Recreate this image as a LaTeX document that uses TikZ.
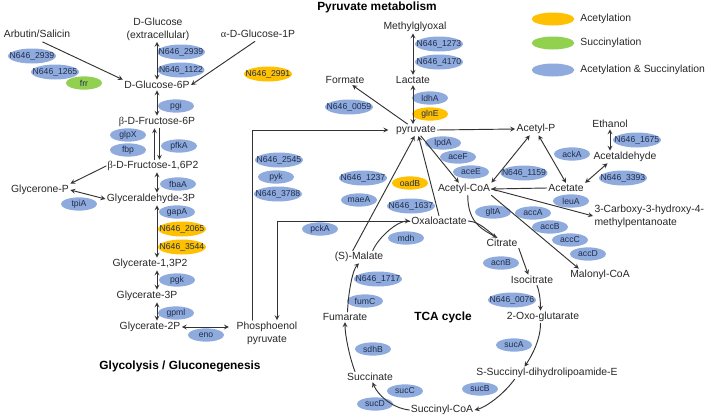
\documentclass[tikz,border=0pt]{standalone}
\usepackage{fontspec}
\setmainfont{Liberation Sans}
\newfontfamily\grk{Liberation Serif}
\usetikzlibrary{shapes.geometric,positioning}
\definecolor{enzblue}{HTML}{8FAADC}
\definecolor{enzyellow}{HTML}{FFC000}
\definecolor{enzgreen}{HTML}{92D050}
\definecolor{enztext}{HTML}{1F2E4C}
\tikzset{
  met/.style={font=\fontsize{8.3}{10.4}\selectfont,inner sep=1pt,text=black!85},
  ttl/.style={font=\fontsize{9.5}{11}\selectfont\bfseries,inner sep=1pt},
  enz/.style={ellipse,minimum width=29pt,minimum height=10.6pt,inner xsep=-4.3pt,inner ysep=0pt,
    font=\fontsize{6.9}{8}\selectfont,text=enztext},
  lng/.style={minimum height=12pt},
  blu/.style={enz,fill=enzblue},
  yel/.style={enz,fill=enzyellow},
  grn/.style={enz,fill=enzgreen},
  legend/.style={ellipse,minimum width=34pt,minimum height=10.4pt,inner sep=0pt},
  rxn/.style={draw=black!80,line width=0.75pt}
}
\begin{document}
\begin{tikzpicture}[x=0.8pt,y=-0.8pt,line join=round,line cap=round,>=stealth]
\path[use as bounding box] (0,0) rectangle (708,419);
% glycolysis / gluconeogenesis
\node[met] (arb) at (37,34) {Arbutin/Salicin};
\node[met,align=center] (glcex) at (158,29) {D-Glucose\\(extracellular)};
\node[met] (glc1p) at (258,34) {{\grk α}-D-Glucose-1P};
\node[met] (g6p) at (157,85) {D-Glucose-6P};
\node[met] (f6p) at (157,122) {{\grk β}-D-Fructose-6P};
\node[met] (f16) at (153,166) {{\grk β}-D-Fructose-1,6P2};
\node[met] (gnp) at (40,190) {Glycerone-P};
\node[met] (gap) at (151,199) {Glyceraldehyde-3P};
\node[met] (g13) at (150,264) {Glycerate-1,3P2};
\node[met] (g3p) at (147,296) {Glycerate-3P};
\node[met] (g2p) at (150,327) {Glycerate-2P};
\node[met,align=center] (pep) at (267,333) {Phosphoenol\\pyruvate};
\node[ttl] (glyttl) at (180,366) {Glycolysis / Gluconegenesis};
\node[blu,lng] (e2939a) at (32,56) {N646\_2939};
\node[blu,lng] (e1265) at (55,72) {N646\_1265};
\node[grn] (efrr) at (84,83) {frr};
\node[blu,lng] (e2939b) at (181,52) {N646\_2939};
\node[blu,lng] (e1122) at (181,70) {N646\_1122};
\node[yel,lng] (e2991) at (268,74) {N646\_2991};
\node[blu] (epgi) at (176,106) {pgi};
\node[blu] (eglpx) at (128,135) {glpX};
\node[blu] (efbp) at (128,150) {fbp};
\node[blu] (epfka) at (179,146) {pfkA};
\node[blu] (efbaa) at (178,184) {fbaA};
\node[blu] (etpia) at (79,204) {tpiA};
\node[blu] (egapa) at (177,212) {gapA};
\node[yel,lng] (e2065) at (182,229) {N646\_2065};
\node[yel,lng] (e3544) at (182,247) {N646\_3544};
\node[blu] (epgk) at (177,280) {pgk};
\node[blu] (egpml) at (176,313) {gpml};
\node[blu] (eeno) at (206,335) {eno};
% pyruvate metabolism
\node[ttl] (pyrttl) at (377,7) {Pyruvate metabolism};
\node[met] (mgo) at (415,27) {Methylglyoxal};
\node[blu,lng] (e1273) at (439,44) {N646\_1273};
\node[blu,lng] (e4170) at (439,62) {N646\_4170};
\node[met] (lac) at (413,80) {Lactate};
\node[blu] (eldha) at (430,98) {ldhA};
\node[yel] (eglne) at (430,114) {glnE};
\node[met] (pyr) at (416,130) {pyruvate};
\node[met] (form) at (345,80) {Formate};
\node[blu,lng] (e0059) at (349,107) {N646\_0059};
\node[met] (acp) at (536,129) {Acetyl-P};
\node[met] (etoh) at (610,124) {Ethanol};
\node[blu,lng] (e1675) at (637,140) {N646\_1675};
\node[met] (ald) at (625,157) {Acetaldehyde};
\node[blu] (eacka) at (572,154) {ackA};
\node[blu,lng] (e1159) at (524,173) {N646\_1159};
\node[blu,lng] (e3393) at (623,178) {N646\_3393};
\node[met] (ace) at (566,188) {Acetate};
\node[met] (accoa) at (464,189) {Acetyl-CoA};
\node[blu] (elpda) at (443,143) {lpdA};
\node[blu] (eacef) at (458,157) {aceF};
\node[blu] (eacee) at (471,172) {aceE};
\node[blu] (eleua) at (571,201) {leuA};
\node[met,align=left,anchor=west] (cbx) at (593,216) {3-Carboxy-3-hydroxy-4-\\methylpentanoate};
\node[blu] (egtla) at (493,212) {gltA};
\node[blu] (eacca) at (533,213) {accA};
\node[blu] (eaccb) at (550,227) {accB};
\node[blu] (eaccc) at (570,240) {accC};
\node[blu] (eaccd) at (588,254) {accD};
\node[met] (mal) at (600,275) {Malonyl-CoA};
% legend
\node[legend,fill=enzyellow] (legac) at (553,19) {};
\node[met,right=3.5pt of legac] (legactxt) {Acetylation};
\node[legend,fill=enzgreen] (legsu) at (553,43) {};
\node[met,right=3.5pt of legsu] (legsutxt) {Succinylation};
\node[legend,fill=enzblue] (legas) at (553,70) {};
\node[met,right=3.5pt of legas] (legastxt) {Acetylation \& Succinylation};
% TCA cycle
\node[blu,lng] (e2545) at (279,160) {N646\_2545};
\node[blu] (epyk) at (276,177) {pyk};
\node[blu,lng] (e3788) at (278,194) {N646\_3788};
\node[blu,lng] (e1237) at (363,178) {N646\_1237};
\node[blu] (emaea) at (359,200) {maeA};
\node[yel] (eoadb) at (410,183) {oadB};
\node[blu,lng] (e1637) at (411,206) {N646\_1637};
\node[blu] (epcka) at (320,229) {pckA};
\node[met] (oxa) at (439,221) {Oxaloactate};
\node[blu] (emdh) at (406,238) {mdh};
\node[met] (smal) at (359,257) {(S)-Malate};
\node[met] (cit) at (502,243) {Citrate};
\node[blu] (eacnb) at (501,263) {acnB};
\node[met] (icit) at (532,280) {Isocitrate};
\node[blu,lng] (e0076) at (512,300) {N646\_0076};
\node[met] (oxo) at (543,317) {2-Oxo-glutarate};
\node[blu] (esuca) at (514,345) {sucA};
\node[met] (ssd) at (547,373) {S-Succinyl-dihydrolipoamide-E};
\node[blu] (esucb) at (480,389) {sucB};
\node[met] (scoa) at (442,410) {Succinyl-CoA};
\node[blu] (esucc) at (405,391) {sucC};
\node[blu] (esucd) at (375,404) {sucD};
\node[met] (succ) at (370,377) {Succinate};
\node[blu] (esdhb) at (373,349) {sdhB};
\node[met] (fum) at (345,317) {Fumarate};
\node[blu] (efumc) at (365,301) {fumC};
\node[blu,lng] (e1717) at (378,279) {N646\_1717};
\node[ttl] (tcattl) at (443,317) {TCA cycle};
% reactions
\draw[rxn,->,shorten <=5pt] (arb.south) -- (g6p.north west);
\draw[rxn,->,shorten <=3pt] (glc1p.south) -- (g6p.east);
\draw[rxn,<->] (glcex.south -| g6p) -- (g6p.north);
\draw[rxn,<->] (g6p.south) -- (f6p.north);
\draw[rxn,<-] ([xshift=-2pt]f6p.south) -- ([xshift=-2pt]f6p.south |- f16.north);
\draw[rxn,->] ([xshift=2pt]f6p.south) -- ([xshift=2pt]f6p.south |- f16.north);
\draw[rxn,->] (f16.west) -- (gnp.north east);
\draw[rxn,<->] (gap.west) -- (gnp.east);
\draw[rxn,<->] (f16.south -| g6p) -- (gap.north -| g6p);
\draw[rxn,<->] (gap.south -| g6p) -- (g13.north -| g6p);
\draw[rxn,<->] (g13.south -| g6p) -- (g3p.north -| g6p);
\draw[rxn,<->] (g3p.south -| g6p) -- (g2p.north -| g6p);
\draw[rxn,<->,shorten >=5pt] (g2p.east) -- (pep.west |- g2p.east);
\draw[rxn,->] ([xshift=-12pt]pep.north) |- ([xshift=-5pt]pyr.west);
\draw[rxn,->] (oxa.west) -| ([xshift=8pt]pep.north);
\draw[rxn,<->] (mgo.south -| lac) -- (lac.north);
\draw[rxn,<->] (lac.south) -- (pyr.north -| lac);
\draw[rxn,->] (pyr) -- (form);
\draw[rxn,->] (pyr.east) -- (acp.west);
\draw[rxn,->] (pyr) -- (accoa);
\draw[rxn,->] ([xshift=-5pt]smal.north) -- ([xshift=-1pt]pyr.south);
\draw[rxn,->] (oxa.north) -- ([xshift=2pt]pyr.south);
\draw[rxn,<->] (accoa.north east) -- ([xshift=-5pt]acp.south);
\draw[rxn,<->] ([xshift=2pt]acp.south) -- (ace.north);
\draw[rxn,->] (ace.west) -- (accoa.east);
\draw[rxn,<->] (etoh.south) -- (etoh.south |- ald.north);
\draw[rxn,<->] ([xshift=-14pt]ald.south) -- (ace.north east);
\draw[rxn,->] (accoa.east) -- (cbx.west);
\draw[rxn,->] (accoa.south east) -- ([xshift=8pt]mal.north west);
\draw[rxn,->] ([xshift=3pt]accoa.south) .. controls +(0,28) and +(-14,-8) .. ([xshift=-4pt]cit.north);
\draw[rxn] (oxa.east) .. controls +(12,1) and +(-10,-7) .. ([xshift=-4pt]cit.north);
\draw[rxn,->] (cit.south east) -- ([xshift=-3pt]icit.north);
\draw[rxn,->] ([xshift=4pt]icit.south) .. controls +(3,8) and +(0,-8) .. ([xshift=-2pt]oxo.north);
\draw[rxn,->] ([xshift=-2pt]oxo.south) .. controls +(0,16) and +(8,-12) .. ([xshift=-18pt]ssd.north);
\draw[rxn,->] ([xshift=-26pt]ssd.south) .. controls +(-10,14) and +(12,-3) .. (scoa.east);
\draw[rxn,->] (scoa.west) .. controls +(-18,-2) and +(5,12) .. ([xshift=2pt]succ.south);
\draw[rxn,->] ([xshift=-12pt]succ.north) .. controls +(-6,-16) and +(0,12) .. (fum.south);
\draw[rxn,->] ([xshift=2pt]fum.north) .. controls +(1,-22) and +(-6,6) .. (smal.south);
\draw[rxn,->] ([xshift=11pt]smal.north) .. controls +(6,-14) and +(-12,0) .. (oxa.west);
\end{tikzpicture}
\end{document}
